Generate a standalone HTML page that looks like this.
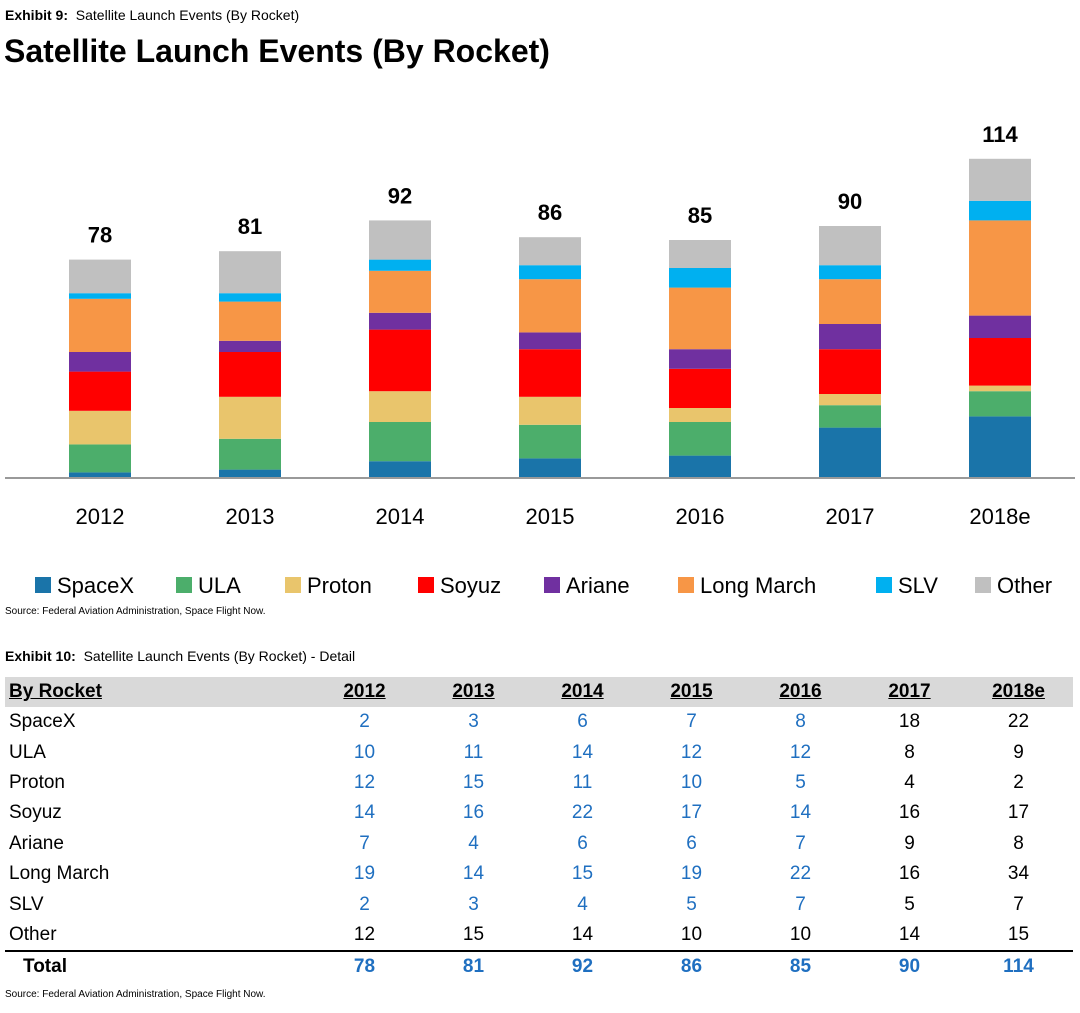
<!DOCTYPE html>
<html><head><meta charset="utf-8"><style>
body{margin:0;width:1080px;height:1013px;background:#fff;font-family:"Liberation Sans",Arial,sans-serif;position:relative;overflow:hidden}
.a{position:absolute;white-space:nowrap}
table{position:absolute;left:5px;top:677px;width:1068px;border-collapse:collapse;font-size:19px;table-layout:fixed}
td{height:30.4px;padding:0;text-align:center}
td:first-child{text-align:left;padding-left:4px}
tr.h td{background:#d9d9d9;font-weight:bold;text-decoration:underline;height:30px}
.b{color:#1f6fc0}
tr.t td{font-weight:bold;border-top:2px solid #000}
</style></head><body>
<div class="a" style="left:5px;top:7px;font-size:14px"><b>Exhibit 9:</b>&nbsp; Satellite Launch Events (By Rocket)</div>
<div class="a" style="left:4px;top:33px;font-size:32px;font-weight:bold">Satellite Launch Events (By Rocket)</div>
<svg id="chart" width="1080" height="610" style="position:absolute;left:0;top:0"></svg>
<div class="a" style="left:5px;top:606px;font-size:10px">Source: Federal Aviation Administration, Space Flight Now.</div>
<div class="a" style="left:5px;top:648px;font-size:14px"><b>Exhibit 10:</b>&nbsp; Satellite Launch Events (By Rocket) - Detail</div>
<table id="tbl"></table>
<div class="a" style="left:5px;top:989px;font-size:10px">Source: Federal Aviation Administration, Space Flight Now.</div>
<script>
const years=["2012","2013","2014","2015","2016","2017","2018e"];
const series=["SpaceX","ULA","Proton","Soyuz","Ariane","Long March","SLV","Other"];
const colors=["#1a74a9","#4cae6b","#e9c56c","#ff0000","#7030a0","#f79646","#00b0f0","#c0c0c0"];
const spacex=[2,3,6,7,8,18,22];
const ula=[10,11,14,12,12,8,9];
const proton=[12,15,11,10,5,4,2];
const soyuz=[14,16,22,17,14,16,17];
const ariane=[7,4,6,6,7,9,8];
const longMarch=[19,14,15,19,22,16,34];
const slv=[2,3,4,5,7,5,7];
const other=[12,15,14,10,10,14,15];
const data=[spacex,ula,proton,soyuz,ariane,longMarch,slv,other];
const NS="http://www.w3.org/2000/svg",svg=document.getElementById('chart');
const base=478,k=2.8;
const y=v=>base-v*k, x=i=>100+i*150;
function mk(t,a){const e=document.createElementNS(NS,t);for(const q in a)e.setAttribute(q,a[q]);svg.appendChild(e);return e;}
years.forEach((yr,i)=>{let c=0;
 data.forEach((s,j)=>{const r=mk('rect',{x:x(i)-31,y:y(c+s[i]),width:62,height:s[i]*k,fill:colors[j]});
 
 c+=s[i];});
 const t=mk('text',{x:x(i),y:y(c)-17,'text-anchor':'middle','font-size':22,'font-weight':'bold'});t.textContent=c;
 
 
 const l=mk('text',{x:x(i),y:524,'text-anchor':'middle','font-size':22});l.textContent=yr;
 
 
});
const ax=mk('line',{x1:5,x2:1075,y1:base,y2:base,stroke:'#999','stroke-width':2});


const lx=[35,176,285,418,544,678,876,975];
series.forEach((s,j)=>{const r=mk('rect',{x:lx[j],y:577,width:16,height:16,fill:colors[j]});
 
 
 const t=mk('text',{x:lx[j]+22,y:593,'font-size':22});t.textContent=s;
 
 });
const tb=document.getElementById('tbl');
let h='<tr class="h"><td style="width:301px">By Rocket</td>'+years.map(v=>'<td style="width:109px">'+v+'</td>').join('')+'</tr>';
series.forEach((s,j)=>{h+='<tr><td>'+s+'</td>'+data[j].map((v,i)=>'<td class="'+(i<5&&j<7?'b':'')+'">'+v+'</td>').join('')+'</tr>';});
h+='<tr class="t"><td style="padding-left:18px">Total</td>'+years.map((v,i)=>'<td class="b">'+data.reduce((a,s)=>a+s[i],0)+'</td>').join('')+'</tr>';
tb.innerHTML=h;
</script>
</body></html>
